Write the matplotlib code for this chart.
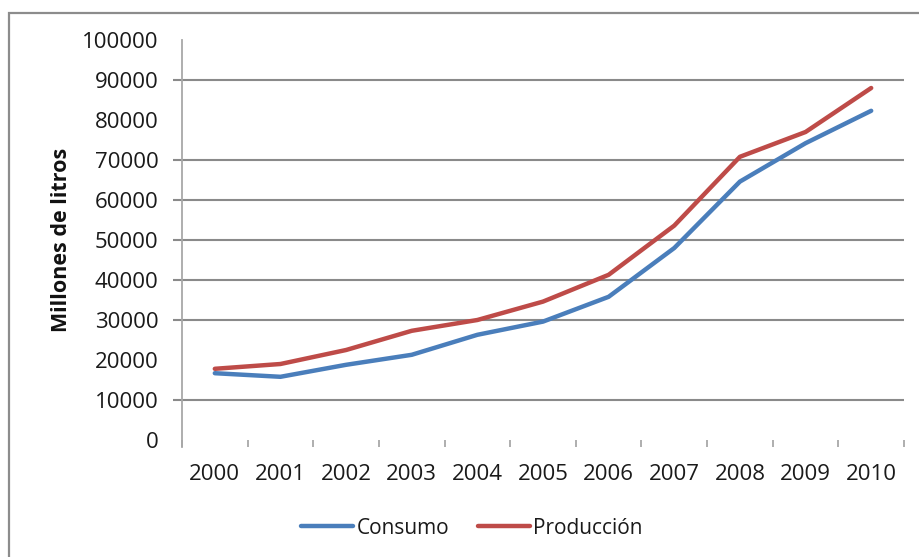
import matplotlib
matplotlib.use("Agg")
import matplotlib.pyplot as plt
from matplotlib.patches import Rectangle
import numpy as np

years = ["2000", "2001", "2002", "2003", "2004", "2005", "2006", "2007", "2008", "2009", "2010"]
consumo = [16700, 15800, 18800, 21300, 26300, 29600, 35800, 48000, 64600, 74200, 82300]
produccion = [17800, 19000, 22500, 27300, 30000, 34600, 41300, 53600, 70800, 77000, 88000]
y_ticks = [0, 10000, 20000, 30000, 40000, 50000, 60000, 70000, 80000, 90000, 100000]
grid_values = [10000, 30000, 40000, 50000, 60000, 70000, 90000]
series_names = ["Consumo", "Producción"]

plt.rcParams["font.family"] = ["Open Sans", "DejaVu Sans"]

W, H = 920, 557
fig = plt.figure(figsize=(W / 100, H / 100), dpi=100)
ax = fig.add_axes([182 / W, (H - 440) / H, (904 - 182) / W, 400 / H])

x = np.arange(len(years))
ax.plot(x, consumo, color="#4A7EBB", lw=3.2, solid_capstyle="round", label=series_names[0], zorder=3)
ax.plot(x, produccion, color="#BE4B48", lw=3.2, solid_capstyle="round", label=series_names[1], zorder=3)

ax.set_xlim(-0.5, len(years) - 0.5)
ax.set_ylim(0, 100000)

# gridlines (extend slightly left of the axis like outer tick marks)
ax.hlines(grid_values, xmin=-9 / 722, xmax=1, transform=ax.get_yaxis_transform(),
          colors="#8a8a8a", lw=1.5, clip_on=False, zorder=1)

# y axis
ax.set_yticks(y_ticks)
ax.set_yticklabels([str(v) for v in y_ticks])
ax.tick_params(axis="y", length=0, pad=17, labelsize=16, labelcolor="#1a1a1a")

# x axis: tick marks at category boundaries, labels at centers
ax.set_xticks(np.arange(-0.5, len(years), 1.0))
ax.set_xticklabels([""] * (len(years) + 1))
ax.tick_params(axis="x", which="major", length=5, width=1.3, color="#a8a8a8", direction="out")
ax.set_xticks(x, minor=True)
ax.set_xticklabels(years, minor=True)
ax.tick_params(axis="x", which="minor", length=0, pad=17, labelsize=16, labelcolor="#1a1a1a")

for s in ["top", "right", "bottom"]:
    ax.spines[s].set_visible(False)
ax.spines["left"].set_color("#a8a8a8")
ax.spines["left"].set_linewidth(1.3)
ax.spines["left"].set_bounds(-1800, 100000)

ax.set_ylabel("Millones de litros", fontsize=15.5, fontweight="bold", color="#111111")
ax.yaxis.set_label_coords(-0.152, 0.5)

fig.legend(loc="center", bbox_to_anchor=(472 / W, 29 / H), ncol=2, frameon=False,
           fontsize=15, handlelength=2.5, handletextpad=0.15, columnspacing=1.4,
           labelcolor="#1a1a1a")

fig.patches.append(Rectangle((9 / W, -0.1), 1.0, (H - 13) / H + 0.1, transform=fig.transFigure,
                             fill=False, edgecolor="#8c8c8c", lw=1.6))

fig.savefig("out.png", dpi=100, facecolor="white")
